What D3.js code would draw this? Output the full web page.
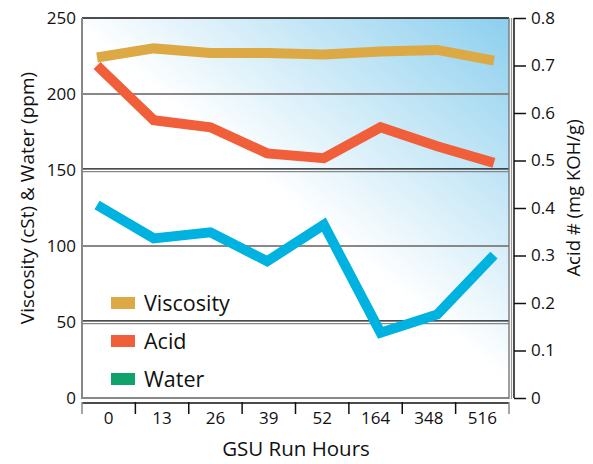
<!DOCTYPE html>
<html><head><meta charset="utf-8">
<script src="https://cdn.jsdelivr.net/npm/d3@7"></script>
<style>body{margin:0;background:#fff}svg{display:block}text{font-family:"Open Sans",sans-serif;fill:#111}</style>
</head><body>
<svg id="c" width="593" height="464"></svg>
<script>
const categories = ["0","13","26","39","52","164","348","516"];
const viscosity = [224, 230, 227, 227, 226, 228, 229, 222];
const water = [127, 105, 109, 90, 114, 43, 55, 94];
const acid = [0.70, 0.585, 0.57, 0.515, 0.505, 0.57, 0.53, 0.495];
const leftTicks = [0, 50, 100, 150, 200, 250];
const rightTicks = [0, 0.1, 0.2, 0.3, 0.4, 0.5, 0.6, 0.7, 0.8];
const legendItems = [
  {name:"Viscosity", color:"#dca944"},
  {name:"Acid", color:"#f15e3a"},
  {name:"Water", color:"#0fa36b"}
];

const svg = d3.select("#c");
const L = 82, R = 509, T = 18, B = 398;
const x = d3.scaleBand().domain(categories).range([L, R]);
const xp = d3.scalePoint().domain(categories).range([L, R]).padding(0.265);
const yL = d3.scaleLinear().domain([0, 250]).range([B, T]);
const yR = d3.scaleLinear().domain([0, 0.8]).range([B, T]);

const defs = svg.append("defs");
const g = defs.append("linearGradient").attr("id","bg").attr("gradientUnits","userSpaceOnUse")
  .attr("x1", R).attr("y1", T).attr("x2", 330).attr("y2", 235);
g.append("stop").attr("offset","0").attr("stop-color","#8ccfee");
g.append("stop").attr("offset","1").attr("stop-color","#ffffff");

svg.append("rect").attr("x", L).attr("y", T).attr("width", R-L).attr("height", B-T).attr("fill","url(#bg)");

// gridlines
leftTicks.forEach(v => {
  const yy = yL(v);
  if (v === 250) {
    svg.append("line").attr("x1", L).attr("x2", R).attr("y1", yy).attr("y2", yy).attr("stroke","#111").attr("stroke-width",1.5);
  } else if (v === 0) {
    svg.append("line").attr("x1", L).attr("x2", R).attr("y1", yy).attr("y2", yy).attr("stroke","#888").attr("stroke-width",2);
  } else if (v === 200 || v === 100) {
    svg.append("line").attr("x1", L).attr("x2", R).attr("y1", yy).attr("y2", yy).attr("stroke","#888").attr("stroke-width",2.2);
  } else {
    svg.append("line").attr("x1", L).attr("x2", R).attr("y1", yy-1.2).attr("y2", yy-1.2).attr("stroke","#111").attr("stroke-width",1.2);
    svg.append("line").attr("x1", L).attr("x2", R).attr("y1", yy+1.6).attr("y2", yy+1.6).attr("stroke","#888").attr("stroke-width",1.2);
  }
});
// frame
svg.append("line").attr("x1", L).attr("x2", L).attr("y1", T).attr("y2", B+1).attr("stroke","#888").attr("stroke-width",2);
svg.append("line").attr("x1", R).attr("x2", R).attr("y1", T).attr("y2", B+1).attr("stroke","#777").attr("stroke-width",1.4);
svg.append("line").attr("x1", R+2.5).attr("x2", R+2.5).attr("y1", T).attr("y2", B+1).attr("stroke","#999").attr("stroke-width",1.2);

// left axis labels
svg.append("g").selectAll("text").data(leftTicks).join("text")
  .attr("x", 76).attr("y", d => yL(d)).attr("dy","0.35em").attr("text-anchor","end")
  .attr("font-size", 17).text(d => d);

// right axis
const ra = svg.append("g").attr("transform", `translate(${R+5},0)`)
  .call(d3.axisRight(yR).tickValues(rightTicks).tickSize(12).tickPadding(5).tickFormat(d => d === 0 ? "0" : d3.format(".1f")(d)));
ra.select(".domain").attr("stroke","#111").attr("stroke-width",1.5).attr("d", `M0,${T}V${B}`);
ra.selectAll(".tick line").attr("stroke","#111").attr("stroke-width",1.5);
ra.selectAll(".tick text").attr("font-size",17).attr("font-family",'"Open Sans",sans-serif').attr("fill","#111");

// x axis
const xa = svg.append("g").attr("transform", `translate(0,${B+4})`)
  .call(d3.axisBottom(x).tickSize(0).tickPadding(10));
xa.select(".domain").remove();
xa.selectAll(".tick text").attr("font-size",17).attr("font-family",'"Open Sans",sans-serif').attr("fill","#111");
const bounds = categories.map(c => x(c)).concat([R]);
svg.append("line").attr("x1", L).attr("x2", R).attr("y1", B+5).attr("y2", B+5).attr("stroke","#111").attr("stroke-width",1.3);
svg.append("g").selectAll("line").data(bounds).join("line")
  .attr("x1", d => d).attr("x2", d => d).attr("y1", B+4).attr("y2", B+16)
  .attr("stroke", (d,i) => (i === 0 || i === bounds.length-1) ? "#888" : "#111").attr("stroke-width",1.5);

// lines
const mk = (yS) => d3.line().x((d,i) => xp(categories[i])).y(d => yS(d));
const lw = 10;
svg.append("path").attr("d", mk(yL)(viscosity)).attr("fill","none").attr("stroke","#dca944").attr("stroke-width",lw).attr("stroke-linejoin","miter");
svg.append("path").attr("d", mk(yR)(acid)).attr("fill","none").attr("stroke","#f15e3a").attr("stroke-width",lw).attr("stroke-linejoin","miter");
svg.append("path").attr("d", mk(yL)(water)).attr("fill","none").attr("stroke","#00b2e0").attr("stroke-width",lw).attr("stroke-linejoin","miter");

// legend
const lg = svg.append("g").selectAll("g").data(legendItems).join("g")
  .attr("transform", (d,i) => `translate(111,${303 + i*38})`);
lg.append("rect").attr("x",0).attr("y",-6).attr("width",24).attr("height",12).attr("fill", d => d.color);
lg.append("text").attr("x",33).attr("y",0).attr("dy","0.36em").attr("font-size",21.5).text(d => d.name);

// titles
svg.append("text").attr("transform","translate(34,198) rotate(-90)").attr("text-anchor","middle")
  .attr("font-size",19).text("Viscosity (cSt) & Water (ppm)");
svg.append("text").attr("transform","translate(580,198) rotate(-90)").attr("text-anchor","middle")
  .attr("font-size",18.5).text("Acid # (mg KOH/g)");
svg.append("text").attr("x",296).attr("y",456).attr("text-anchor","middle")
  .attr("font-size",20.5).text("GSU Run Hours");
</script>
</body></html>
